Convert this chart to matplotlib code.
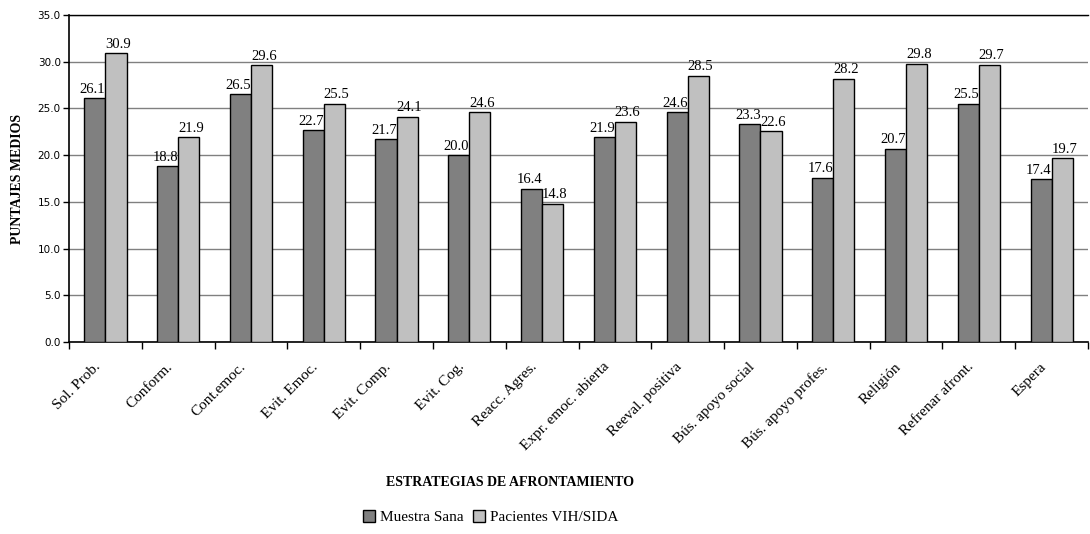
import numpy as np
import matplotlib.pyplot as plt
from matplotlib.transforms import ScaledTranslation

# Data
categorias = ['Sol. Prob.', 'Conform.', 'Cont.emoc.', 'Evit. Emoc.', 'Evit. Comp.',
              'Evit. Cog.', 'Reacc. Agres.', 'Expr. emoc. abierta', 'Reeval. positiva',
              'Bús. apoyo social', 'Bús. apoyo profes.', 'Religión', 'Refrenar afront.',
              'Espera']
muestra_sana = [26.1, 18.8, 26.5, 22.7, 21.7, 20.0, 16.4, 21.9, 24.6, 23.3, 17.6, 20.7, 25.5, 17.4]
pacientes_vih = [30.9, 21.9, 29.6, 25.5, 24.1, 24.6, 14.8, 23.6, 28.5, 22.6, 28.2, 29.8, 29.7, 19.7]
yticks = [0, 5, 10, 15, 20, 25, 30, 35]

serif = 'Liberation Serif'

fig = plt.figure(figsize=(10.9, 5.34), dpi=100)
ax = fig.add_axes([0.0633, 0.3596, 0.9349, 0.6123])

x = np.arange(len(categorias))
w = 0.29
b1 = ax.bar(x - w / 2, muestra_sana, w, color='#808080', edgecolor='black', linewidth=1,
            label='Muestra Sana', zorder=3)
b2 = ax.bar(x + w / 2, pacientes_vih, w, color='#C0C0C0', edgecolor='black', linewidth=1,
            label='Pacientes VIH/SIDA', zorder=3)

# value labels; nudge the pair that would otherwise touch
for bars, dx in ((b1, -0.03), (b2, 0.03)):
    for r in bars:
        ax.text(r.get_x() + r.get_width() / 2 + dx, r.get_height() + 0.25, '%.1f' % r.get_height(),
                ha='center', va='bottom', fontsize=10.5, family=serif)

ax.set_xlim(-0.5, len(categorias) - 0.5)
ax.set_ylim(0, 35)
ax.set_yticks(yticks)
ax.set_yticklabels(['%.1f' % v for v in yticks], fontsize=7.5)
ax.yaxis.grid(True, color='#808080', linewidth=1, zorder=0)

# category boundaries carry the tick marks, labels sit at the centres
ax.set_xticks(np.arange(len(categorias) + 1) - 0.5)
ax.set_xticklabels([])
ax.set_xticks(x, minor=True)
ax.set_xticklabels(categorias, minor=True, rotation=45, ha='right', rotation_mode='anchor',
                   fontsize=11, family=serif)
ax.tick_params(axis='x', which='minor', length=0, pad=6)
ax.tick_params(axis='x', which='major', direction='out', length=5, width=1)
ax.tick_params(axis='y', direction='out', length=4, width=1, pad=2)
off = ScaledTranslation(-0.12, -0.10, fig.dpi_scale_trans)
for lab in ax.get_xticklabels(minor=True):
    lab.set_transform(lab.get_transform() + off)

ax.spines['right'].set_visible(False)
ax.spines['top'].set_linewidth(1)
ax.spines['left'].set_linewidth(1.2)
ax.spines['bottom'].set_linewidth(1.2)

ax.set_ylabel('PUNTAJES MEDIOS', fontsize=10, fontweight='bold', family=serif, labelpad=10)
fig.text(0.468, 0.097, 'ESTRATEGIAS DE AFRONTAMIENTO', ha='center', va='center',
         fontsize=10, fontweight='bold', family=serif)

fig.legend(loc='center', bbox_to_anchor=(0.45, 0.032), ncol=2, frameon=False,
           prop={'family': serif, 'size': 11}, handlelength=0.8, handleheight=0.8,
           handletextpad=0.3, columnspacing=0.6)

plt.savefig('out.png', dpi=100)
